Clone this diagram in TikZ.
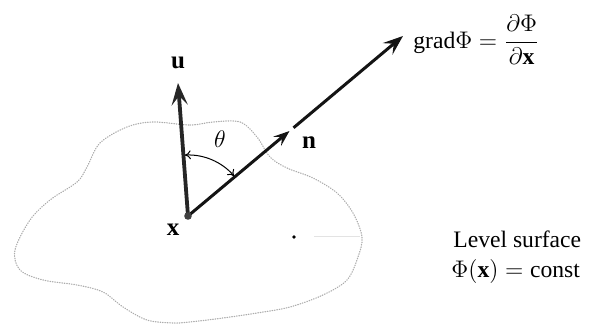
\documentclass[tikz,border=0pt]{standalone}
\usepackage{fontspec}
\setmainfont{Liberation Serif}
\usetikzlibrary{arrows.meta}
\begin{document}
\begin{tikzpicture}[x=0.5pt,y=-0.5pt,
  vecu/.style={line width=1.9pt, black!85, -{Stealth[length=11pt,width=8pt,inset=4.5pt]}},
  vecn/.style={line width=1.5pt, black!92, -{Stealth[length=10pt,width=7.5pt,inset=4pt]}},
  vecm/.style={line width=1.5pt, black!92, -{Stealth[length=8pt,width=6pt,inset=3.2pt]}},
  level/.style={gray!65, line width=0.6pt, dash pattern=on 0.3pt off 0.9pt, line cap=round},
  lbl/.style={font=\fontsize{11.8}{14}\selectfont, inner sep=0pt},
  blbl/.style={font=\fontsize{12.5}{14}\selectfont\bfseries, inner sep=0pt},
  anglearc/.style={line width=0.5pt, {To[length=3pt,width=4.5pt]}-{To[length=3pt,width=4.5pt]}}]
\useasboundingbox (0,0) rectangle (594,325);
% level surface outline
\draw[level] plot[smooth cycle, tension=0.55] coordinates {
 (153,122) (190,125) (213,122) (240,122) (257,137) (270,157) (287,168)
 (313,178) (337,193) (353,213) (362,237) (358,257) (347,280) (323,295)
 (290,307) (257,313) (223,318) (190,322) (173,323) (147,320) (123,307)
 (103,292) (77,285) (43,280) (20,270) (15,250) (30,220) (50,200)
 (77,182) (87,167) (100,143) (127,127)};
% points
\coordinate (X) at (188,216);
\coordinate (U) at (178,83);
\coordinate (M1) at (289.5,131);
\coordinate (M2) at (293.5,127.8);
\coordinate (N) at (403,36);
\coordinate (P) at (294,237);
\coordinate (Pe) at (360,237);
% faint trace from the point
\draw[gray!22, line width=0.5pt] ([xshift=10]P) -- (Pe);
\fill[black] (P) circle[radius=1.8];
% vectors
\draw[vecm] (X) -- (M1);
\draw[vecn] (M2) -- (N);
\draw[vecu] (X) -- (U);
\fill[black!75] (X) circle[radius=3.8];
% angle
\draw[anglearc] ([shift={(-93:61)}]X) arc[start angle=-93, end angle=-40.8, radius=61];
% labels
\node[blbl] (ulab) at (178,63) {u};
\node[blbl] (nlab) at (309,143) {n};
\node[blbl] (xlab) at (173,230) {x};
\node[lbl] (th) at (220,139) {$\theta$};
\node[lbl, anchor=west] (grad) at (413,40) {$\displaystyle\mathrm{grad}\Phi = \frac{\partial\Phi}{\partial\mathbf{x}}$};
\node[lbl, anchor=base west] (lev1) at (453,248) {Level surface};
\node[lbl, anchor=base west] (lev2) at (451,278) {$\Phi(\mathbf{x}) = \mathrm{const}$};
\end{tikzpicture}
\end{document}
